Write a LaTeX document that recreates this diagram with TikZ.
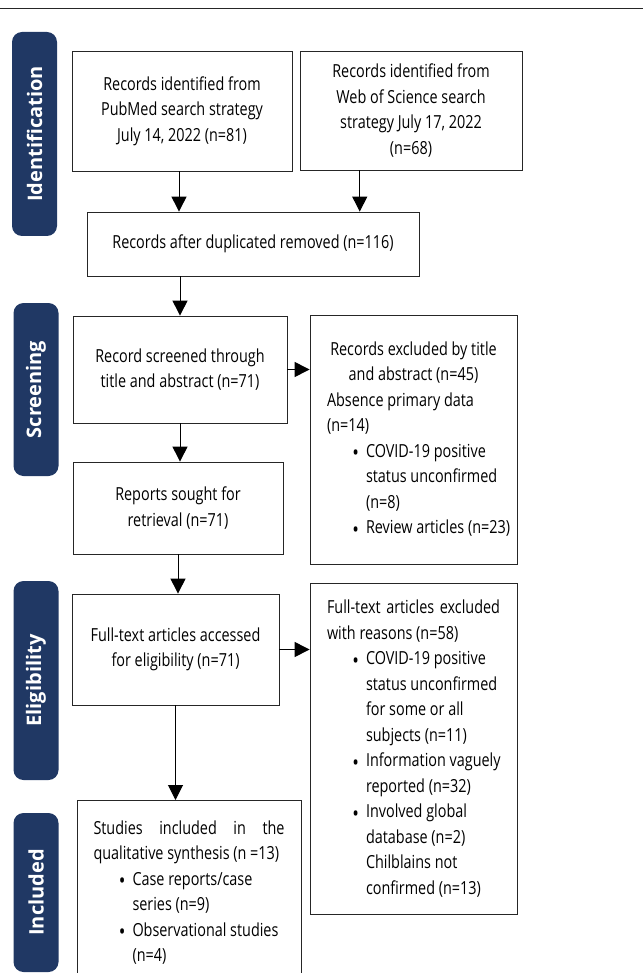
\documentclass[tikz,border=0pt]{standalone}
\usepackage{fontspec}
\setmainfont{Open Sans}[FakeStretch=0.8]
\newfontfamily\bandfont{Open Sans}
\usepackage{enumitem}
\usetikzlibrary{arrows.meta,calc}
\definecolor{bandblue}{RGB}{32,56,100}
\setlist[itemize]{nosep,label={\raisebox{-3.5pt}{\fontsize{22}{0}\selectfont\textbullet}},leftmargin=39pt,labelsep=7pt,rightmargin=-14pt}
\hyphenpenalty=10000
\exhyphenpenalty=10000
\tolerance=9999
\newcommand\plainspaces{\spaceskip=0pt \xspaceskip=0pt }

\begin{document}
\begin{tikzpicture}[x=1pt, y=-1pt,
    box/.style={draw=black!85, line width=0.8pt, align=center, inner sep=0pt,
      font=\fontsize{18}{25.5}\selectfont},
    band/.style={fill=bandblue, rounded corners=10pt, rotate=90, minimum height=45pt,
      inner sep=0pt, text=white, font=\bandfont\bfseries\fontsize{20}{22}\selectfont},
    arr/.style={-{Triangle[length=15pt,width=15pt]}, line width=1pt}]

  \useasboundingbox (0,0) rectangle (643,973);
  \clip (0,0) rectangle (643,973);

  \draw[line width=1pt, black!85] (0,8.5) -- (643,8.5);

  % phase bands
  \node[band, minimum width=204pt] (identification) at (34.5,134) {Identification};
  \node[band, minimum width=173pt] (screening) at (36,389.5) {Screening};
  \node[band, minimum width=199pt] (eligibility) at (36,680.5) {Eligibility};
  \node[band, minimum width=159pt] (included) at (36,892.5) {Included};

  % boxes
  \node[box, minimum width=220pt, minimum height=120pt] (pubmed) at (182,111)
    {Records identified from\\PubMed search strategy\\July 14, 2022 (n=81)};
  \node[box, minimum width=222pt, minimum height=119pt] (wos) at (411,110.5)
    {Records identified from\\Web of Science search\\strategy July 17, 2022\\(n=68)};
  \node[box, minimum width=332pt, minimum height=64pt] (dup) at (253,244)
    {Records after duplicated removed (n=116)};
  \node[box, minimum width=214pt, minimum height=107pt] (screen) at (180,369.5)
    {Record screened through\\title and abstract (n=71)};
  \node[box, minimum width=207pt, minimum height=249pt, text width=173pt, align=left] (excl1) at (413.5,439.5)
    {\plainspaces\raggedright
     {\centering Records excluded by title\\and abstract (n=45)\par}
     Absence primary data\\(n=14)
     \begin{itemize}
       \item COVID-19 positive\\status unconfirmed\\(n=8)
       \item Review articles (n=23)
     \end{itemize}};
  \node[box, minimum width=210pt, minimum height=92pt] (sought) at (178,508)
    {Reports sought for\\retrieval (n=71)};
  \node[box, minimum width=207pt, minimum height=111pt] (fulltext) at (175.5,649.5)
    {Full-text articles accessed\\for eligibility (n=71)};
  \node[box, minimum width=207pt, minimum height=331pt, text width=173pt, align=justify] (excl2) at (413.5,748.5)
    {Full-text articles excluded with reasons (n=58)
     \begin{itemize}
       \item COVID-19 positive\\status unconfirmed\\for some or all\\subjects (n=11)
       \item Information vaguely\\reported (n=32)
       \item Involved global\\database (n=2)\\Chilblains not\\confirmed (n=13)
     \end{itemize}};
  \node[box, anchor=north, minimum width=224pt, minimum height=184pt, text width=191pt, align=justify] (incl) at (189,800)
    {Studies included in the qualitative synthesis (n =13)
     \begin{itemize}
       \item Case reports/case\\series (n=9)
       \item Observational studies\\(n=4)
     \end{itemize}};

  % arrows
  \draw[arr] ($(pubmed.south)+(-3,0)$) -- ($(pubmed.south |- dup.north)+(-3,0)$);
  \draw[arr] ($(wos.south west)!0.27!(wos.south east)$) coordinate (w) -- (w |- dup.north);
  \draw[arr] (screen.north |- dup.south) -- (screen.north);
  \draw[arr] (screen.east) -- (screen.east -| excl1.west);
  \draw[arr] (screen.south) -- (screen.south |- sought.north);
  \draw[arr] (sought.south) -- (sought.south |- fulltext.north);
  \draw[arr] (fulltext.east) -- (fulltext.east -| excl2.west);
  \draw[arr] (fulltext.south) -- (fulltext.south |- incl.north);

\end{tikzpicture}
\end{document}
